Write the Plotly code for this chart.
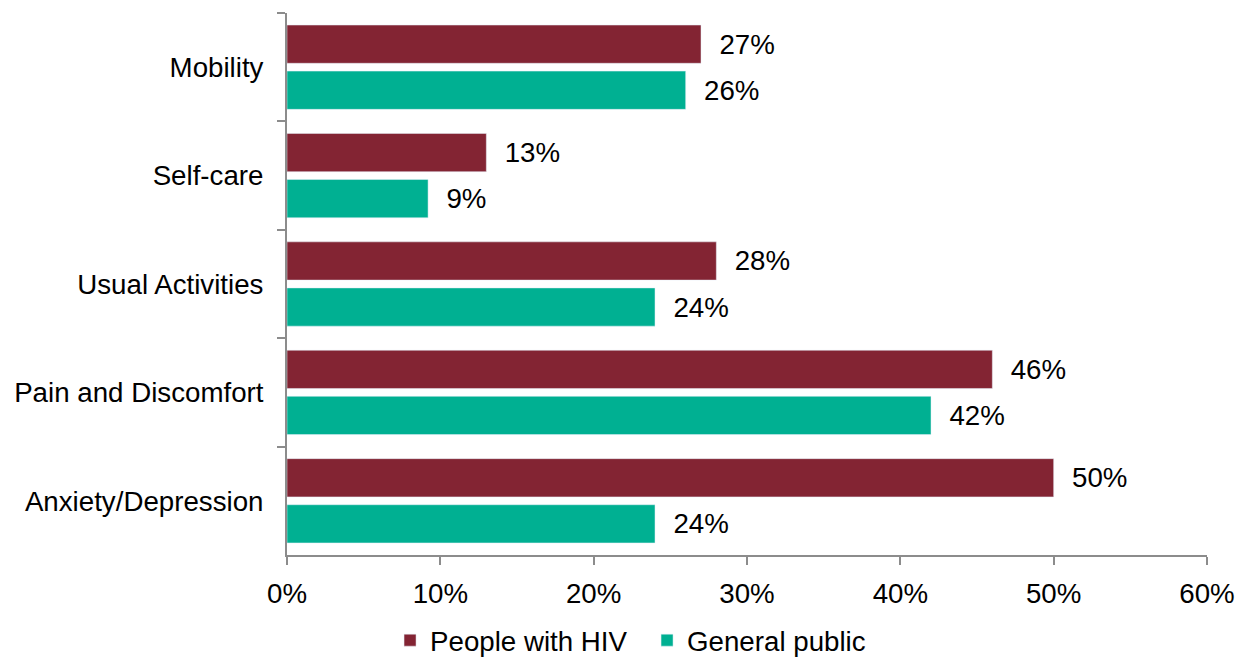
"""EQ-5D problem dimensions: people with HIV vs general public"""
import plotly.graph_objects as go

categories = ["Mobility", "Self-care", "Usual Activities", "Pain and Discomfort", "Anxiety/Depression"]
hiv_values = [27, 13, 28, 46, 50]
public_values = [26, 9.2, 24, 42, 24]
x_ticks = [0, 10, 20, 30, 40, 50, 60]
x_tick_labels = ["0%", "10%", "20%", "30%", "40%", "50%", "60%"]

font_family = "Liberation Sans, Arial, sans-serif"
font_size = 27.7

fig = go.Figure()
fig.add_bar(
    y = categories,
    x = hiv_values,
    orientation = "h",
    name = "People with HIV",
    marker_color = "#832433",
    text = [f"\u00a0\u00a0{v:.0f}%" for v in hiv_values],
    textposition = "outside",
    textfont = dict(size = font_size, color = "black"),
    cliponaxis = False,
)
fig.add_bar(
    y = categories,
    x = public_values,
    orientation = "h",
    name = "General public",
    marker_color = "#00B092",
    text = [f"\u00a0\u00a0{v:.0f}%" for v in public_values],
    textposition = "outside",
    textfont = dict(size = font_size, color = "black"),
    cliponaxis = False,
)
fig.update_layout(
    width = 1236,
    height = 657,
    barmode = "group",
    bargap = 0.15,
    bargroupgap = 0.17,
    plot_bgcolor = "white",
    paper_bgcolor = "white",
    font = dict(family = font_family, size = font_size, color = "black"),
    margin = dict(l = 287, r = 29, t = 13, b = 102, autoexpand = False),
    legend = dict(
        orientation = "h",
        x = 0.112,
        xanchor = "left",
        y = -0.158,
        yanchor = "middle",
        font = dict(size = font_size),
        traceorder = "normal",
        entrywidth = 212,
        entrywidthmode = "pixels",
        itemwidth = 30,
    ),
)
fig.update_xaxes(
    range = [0, 60],
    tickvals = x_ticks,
    ticktext = x_tick_labels,
    showgrid = False,
    zeroline = False,
    showline = True,
    linecolor = "#8c8c8c",
    linewidth = 2,
    ticks = "outside",
    ticklen = 8,
    tickwidth = 2,
    tickcolor = "#8c8c8c",
    ticklabelstandoff = 5,
    automargin = False,
)
fig.update_yaxes(
    autorange = "reversed",
    showgrid = False,
    showline = True,
    linecolor = "#8c8c8c",
    linewidth = 2,
    ticks = "outside",
    tickson = "boundaries",
    ticklen = 8,
    tickwidth = 2,
    tickcolor = "#8c8c8c",
    ticklabelstandoff = 16,
    automargin = False,
)
# page body has a default 8px margin; drop it so the figure fills the window
fig.write_html(
    "out.html",
    config = dict(displayModeBar = False),
    post_script = "document.body.style.margin = '0px';",
)
